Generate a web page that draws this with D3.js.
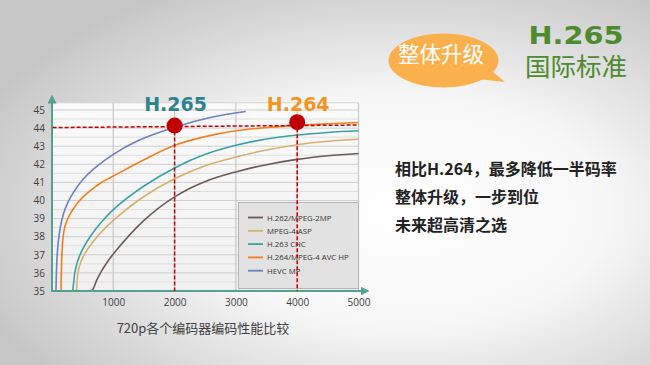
<!DOCTYPE html>
<html><head><meta charset="utf-8">
<script src="https://cdn.jsdelivr.net/npm/d3@7"></script>
<style>html,body{margin:0;padding:0;overflow:hidden;background:#fff}</style>
</head><body>
<script>
// ---- data ----
const seriesNames = ["H.262/MPEG-2MP","MPEG-4 ASP","H.263 CHC","H.264/MPEG-4 AVC HP","HEVC MP"];
const seriesColors = ["#6b5a55","#d8b06e","#3aa2a4","#f57f20","#6a82c4"];
const h262 = [[647,35],[680,35.18],[730,35.6],[800,36.06],[900,36.59],[1000,37.05],[1500,38.9],[2000,40.2],[2500,41.05],[3000,41.58],[3500,41.98],[4000,42.27],[4500,42.47],[5000,42.6]];
const mpeg4 = [[402,35],[415,35.8],[435,36.2],[470,36.6],[540,37.09],[650,37.64],[800,38.24],[1000,38.9],[1500,40.22],[2000,41.2],[2500,41.92],[3000,42.4],[3500,42.79],[4000,43.08],[4500,43.27],[5000,43.38]];
const h263 = [[337,35],[350,35.36],[370,35.96],[400,36.44],[450,36.94],[530,37.5],[650,38.14],[800,38.78],[1000,39.5],[1500,40.8],[2000,41.8],[2500,42.55],[3000,43.05],[3500,43.4],[4000,43.62],[4500,43.76],[5000,43.85]];
const h264 = [[147,35],[155,36.4],[168,37.4],[185,38.1],[210,38.55],[245,38.9],[295,39.25],[360,39.6],[450,40.0],[600,40.48],[800,40.98],[1000,41.35],[1500,42.25],[2000,43.05],[2500,43.53],[3000,43.85],[3500,44.03],[4000,44.15],[4500,44.24],[5000,44.31]];
const hevc = [[65,35],[72,36],[85,37],[105,37.8],[140,38.6],[190,39.3],[260,39.9],[350,40.45],[500,41.15],[700,41.8],[1000,42.55],[1400,43.3],[2000,44.05],[2600,44.6],[3160,44.92]];
const allSeries = [h262, mpeg4, h263, h264, hevc];
const xTicks = [1000,2000,3000,4000,5000];
const yTicks = [35,36,37,38,39,40,41,42,43,44,45];
const markers = [{label:"H.265", x:2000, y:44.14, color:"#2f8390"},{label:"H.264", x:4000, y:44.33, color:"#f7941d"}];
const refLine = [[10,44.03],[5000,44.17]];
const chartTitle = "720p各个编码器编码性能比较";
const bubbleText = "整体升级";
const headTitle = "H.265";
const headSub = "国际标准";
const bullets = ["相比H.264，最多降低一半码率","整体升级，一步到位","未来超高清之选"];

// ---- drawing ----
const W=650,H=365;
const svg=d3.select("body").append("svg").attr("width",W).attr("height",H);
const defs=svg.append("defs");
const bg=defs.append("radialGradient").attr("id","bg").attr("cx","62%").attr("cy","58%").attr("r","70%");
bg.append("stop").attr("offset","0").attr("stop-color","#ffffff");
bg.append("stop").attr("offset","0.45").attr("stop-color","#f7f7f7");
bg.append("stop").attr("offset","1").attr("stop-color","#c6c6c6");
svg.append("rect").attr("width",W).attr("height",H).attr("fill","url(#bg)");
const pg=defs.append("linearGradient").attr("id","pg").attr("x1","0").attr("y1","0").attr("x2","0").attr("y2","1");
pg.append("stop").attr("offset","0").attr("stop-color","#fafafa");
pg.append("stop").attr("offset","1").attr("stop-color","#f0f0f0");

const x=d3.scaleLinear().domain([0,5000]).range([52,358.5]);
const y=d3.scaleLinear().domain([35,45]).range([291,110]);
const yTop=45.4;

const g=svg.append("g");
g.append("rect").attr("x",x(0)).attr("y",y(yTop)).attr("width",x(5000)-x(0)).attr("height",y(35)-y(yTop)).attr("fill","url(#pg)");
const hLines=d3.range(35.5,45.01,0.5);
g.selectAll(".hg").data(hLines).join("line")
 .attr("x1",x(0)).attr("x2",x(5000)).attr("y1",d=>y(d)).attr("y2",d=>y(d))
 .attr("stroke",d=>Number.isInteger(d)?"#cfcfcf":"#dedede").attr("stroke-width",1);
g.append("line").attr("x1",x(0)).attr("x2",x(5000)).attr("y1",y(yTop)).attr("y2",y(yTop)).attr("stroke","#d4d4d4");
g.selectAll(".vg").data(xTicks).join("line")
 .attr("x1",d=>x(d)).attr("x2",d=>x(d)).attr("y1",y(yTop)).attr("y2",y(35))
 .attr("stroke","#c8c8c8").attr("stroke-width",1.2);

// series
const line=d3.line().x(d=>x(d[0])).y(d=>y(d[1])).curve(d3.curveCatmullRom.alpha(0.5));
g.selectAll(".s").data(allSeries).join("path")
 .attr("d",line).attr("fill","none").attr("stroke",(d,i)=>seriesColors[i]).attr("stroke-width",1.6);

// legend
const lg=g.append("g");
lg.append("rect").attr("x",238.5).attr("y",202.5).attr("width",120).attr("height",86).attr("fill","#e2e2e2").attr("stroke","#b4b4b4").attr("stroke-width",1);
seriesNames.forEach((n,i)=>{
  const yy=217.5+i*13.3;
  lg.append("line").attr("x1",248).attr("x2",263).attr("y1",yy).attr("y2",yy).attr("stroke",seriesColors[i]).attr("stroke-width",1.8);
  lg.append("text").attr("x",267).attr("y",yy+3).text(n).attr("font-family","'Open Sans','Noto Sans',sans-serif").attr("font-size",7.8).attr("fill","#333");
});

// axes
const axisColor="#55a08f";
defs.append("marker").attr("id","arr").attr("viewBox","0 0 10 10").attr("refX","5").attr("refY","5").attr("markerWidth",4.5).attr("markerHeight",4.5).attr("orient","auto")
 .append("path").attr("d","M0,0 L10,5 L0,10 z").attr("fill",axisColor);
g.append("line").attr("x1",x(0)).attr("y1",y(35)).attr("x2",x(0)).attr("y2",99).attr("stroke",axisColor).attr("stroke-width",2).attr("marker-end","url(#arr)");
g.append("line").attr("x1",x(0)-1).attr("y1",y(35)).attr("x2",365).attr("y2",y(35)).attr("stroke",axisColor).attr("stroke-width",2).attr("marker-end","url(#arr)");

const yAxis=d3.axisLeft(y).tickValues(yTicks).tickFormat(d3.format("d")).tickSize(0).tickPadding(7);
const ya=g.append("g").attr("transform",`translate(${x(0)},0)`).call(yAxis);
ya.select(".domain").remove();
ya.selectAll("text").attr("font-family","'Open Sans','Noto Sans',sans-serif").attr("font-size",10).attr("fill","#404040");
const xAxis=d3.axisBottom(x).tickValues(xTicks).tickFormat(d3.format("d")).tickSize(0).tickPadding(8);
const xa=g.append("g").attr("transform",`translate(0,${y(35)})`).call(xAxis);
xa.select(".domain").remove();
xa.selectAll("text").attr("font-family","'Open Sans','Noto Sans',sans-serif").attr("font-size",10).attr("fill","#404040");

// reference dashed lines
const red="#c00000";
g.append("line").attr("x1",x(refLine[0][0])).attr("y1",y(refLine[0][1])).attr("x2",x(refLine[1][0])).attr("y2",y(refLine[1][1]))
 .attr("stroke",red).attr("stroke-width",1.5).attr("stroke-dasharray","4,2");
markers.forEach(m=>{
  g.append("line").attr("x1",x(m.x)).attr("x2",x(m.x)).attr("y1",y(m.y)).attr("y2",y(35))
   .attr("stroke",red).attr("stroke-width",1.5).attr("stroke-dasharray","4,2");
  g.append("circle").attr("cx",x(m.x)).attr("cy",y(m.y)).attr("r",8).attr("fill",red);
  g.append("text").attr("x",x(m.x)+1).attr("y",111).attr("text-anchor","middle").text(m.label)
   .attr("font-family","'DejaVu Sans',sans-serif").attr("font-weight","bold").attr("font-size",19).attr("fill",m.color);
});

// chart title
svg.append("text").attr("x",203).attr("y",333).attr("text-anchor","middle").text(chartTitle)
 .attr("font-family","'Noto Sans CJK SC',sans-serif").attr("font-size",13).attr("fill","#404040");

// speech bubble
const bub=svg.append("g");
bub.append("path").attr("d","M478,79 L505,82 L492,71 Z").attr("fill","#f9b04d");
bub.append("ellipse").attr("cx",443.5).attr("cy",60.5).attr("rx",55).attr("ry",27).attr("fill","#f9b04d");
bub.append("text").attr("x",441).attr("y",56).attr("text-anchor","middle").attr("dominant-baseline","middle").text(bubbleText)
 .attr("font-family","'Noto Sans CJK SC',sans-serif").attr("font-size",21.5).attr("fill","#ffffff");

// heading
svg.append("text").attr("transform","translate(576,44) scale(1.2,1)").attr("text-anchor","middle").text(headTitle)
 .attr("font-family","'DejaVu Sans',sans-serif").attr("font-weight","bold").attr("font-size",24).attr("fill","#4f8a2e");
svg.append("text").attr("x",576).attr("y",76).attr("text-anchor","middle").text(headSub)
 .attr("font-family","'Noto Sans CJK SC',sans-serif").attr("font-size",25.5).attr("fill","#4f8a2e");

// bullets
bullets.forEach((t,i)=>{
  svg.append("text").attr("x",395).attr("y",175+i*27.8).text(t)
   .attr("font-family","'Noto Sans CJK SC',sans-serif").attr("font-weight","bold").attr("font-size",16).attr("fill","#222");
});
</script>
</body></html>
